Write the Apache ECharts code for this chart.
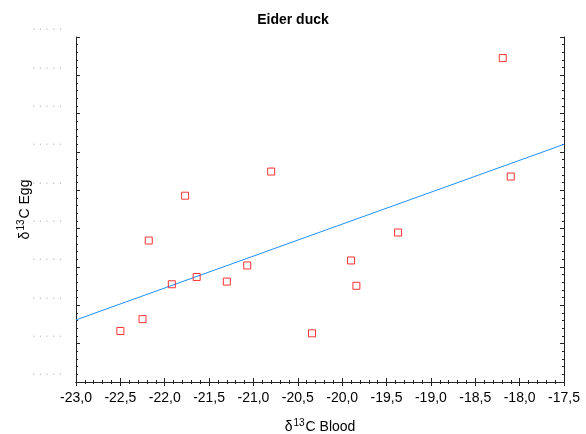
<!DOCTYPE html>
<html>
<head>
<meta charset="utf-8">
<script src="https://cdn.jsdelivr.net/npm/echarts@6/dist/echarts.min.js"></script>
<style>html,body{margin:0;padding:0;background:#fff}#c{width:586px;height:434px}</style>
</head>
<body>
<div id="c"></div>
<script>
// Data (y axis values are unlabelled in the source; arbitrary units 0..9)
var bloodX = [-22.50, -22.25, -22.18, -21.92, -21.77, -21.64, -21.30, -21.07, -20.80, -20.34, -19.90, -19.84, -19.37, -18.19, -18.10];
var eggY   = [1.33, 1.64, 3.69, 2.55, 4.86, 2.74, 2.62, 3.04, 5.49, 1.27, 3.17, 2.51, 3.90, 8.45, 5.36];
var fitX = [-23.0, -17.5];
var fitY = [1.62, 6.20];
var xTickLabels = ['-23,0','-22,5','-22,0','-21,5','-21,0','-20,5','-20,0','-19,5','-19,0','-18,5','-18,0','-17,5'];
var yTickLabel = '. . . . .';
var xTitle = ['δ', '13', 'C Blood'];
var yTitle = ['δ', '13', 'C Egg'];

var pts = bloodX.map(function (x, i) { return [x, eggY[i]]; });
var fit = fitX.map(function (x, i) { return [x, fitY[i]]; });

var axisCol = '#222';
var font = 'Liberation Sans, Arial, sans-serif';
var richName = {
  a: {fontFamily: font, fontSize: 14, color: '#000', lineHeight: 16, verticalAlign: 'bottom'},
  s: {fontFamily: font, fontSize: 10, color: '#000', lineHeight: 10, verticalAlign: 'top', padding: [0, 1, 0, 1]}
};
function supName(p) { return '{a|' + p[0] + '}{s|' + p[1] + '}{a|' + p[2] + '}'; }

var chart = echarts.init(document.getElementById('c'), null, {renderer: 'canvas'});
chart.setOption({
  animation: false,
  backgroundColor: '#fff',
  title: {
    text: 'Eider duck', left: 'center', top: 8,
    textStyle: {fontFamily: font, fontSize: 14, fontWeight: 'bold', color: '#000'}
  },
  grid: {left: 76, right: 22, top: 37, bottom: 52, containLabel: false, outerBoundsMode: 'none'},
  xAxis: [{
    type: 'value', min: -23, max: -17.5, interval: 0.5, position: 'bottom',
    name: supName(xTitle), nameLocation: 'middle', nameGap: 36,
    nameTextStyle: {rich: richName},
    axisLine: {show: true, lineStyle: {color: axisCol, width: 1}},
    axisTick: {show: true, inside: true, length: 4, lineStyle: {color: axisCol}},
    minorTick: {show: true, splitNumber: 5, length: 2, lineStyle: {color: axisCol}},
    splitLine: {show: false},
    axisLabel: {
      fontFamily: font, fontSize: 14, color: '#000', margin: 9,
      formatter: function (v) { var i = Math.round((v + 23) / 0.5); return xTickLabels[i] || ''; }
    }
  }, {
    type: 'value', min: -23, max: -17.5, interval: 0.5, position: 'top',
    axisLine: {show: true, lineStyle: {color: axisCol, width: 1}},
    axisTick: {show: true, inside: true, length: 4, lineStyle: {color: axisCol}},
    minorTick: {show: true, splitNumber: 5, length: 2, lineStyle: {color: axisCol}},
    splitLine: {show: false}, axisLabel: {show: false}
  }],
  yAxis: [{
    type: 'value', min: 0, max: 9, interval: 1, position: 'left',
    name: supName(yTitle), nameLocation: 'middle', nameGap: 44, nameRotate: 90,
    nameMoveOverlap: false,
    nameTextStyle: {rich: richName},
    axisLine: {show: true, lineStyle: {color: axisCol, width: 1}},
    axisTick: {show: true, inside: true, length: 4, lineStyle: {color: axisCol}},
    minorTick: {show: true, splitNumber: 5, length: 2, lineStyle: {color: axisCol}},
    splitLine: {show: false},
    axisLabel: {
      fontFamily: font, fontSize: 12, color: '#c8c8c8', margin: 14,
      verticalAlign: 'bottom', padding: [0, 0, 4, 0],
      formatter: function () { return yTickLabel; }
    }
  }, {
    type: 'value', min: 0, max: 9, interval: 1, position: 'right',
    axisLine: {show: true, lineStyle: {color: axisCol, width: 1}},
    axisTick: {show: true, inside: true, length: 4, lineStyle: {color: axisCol}},
    minorTick: {show: true, splitNumber: 5, length: 2, lineStyle: {color: axisCol}},
    splitLine: {show: false}, axisLabel: {show: false}
  }],
  series: [{
    type: 'line', data: fit, showSymbol: false, symbol: 'none',
    lineStyle: {color: '#1e90ff', width: 1}, z: 2, silent: true
  }, {
    type: 'scatter', data: pts, symbol: 'rect', symbolSize: 7,
    itemStyle: {color: 'rgba(255,255,255,0)', borderColor: '#ff0000', borderWidth: 1},
    z: 3
  }]
});
</script>
</body>
</html>
